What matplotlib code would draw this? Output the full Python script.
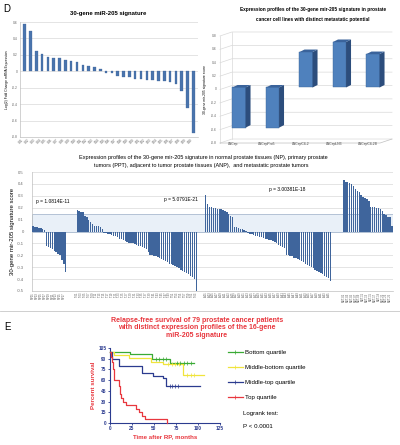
import numpy as np
import matplotlib
matplotlib.use("Agg")
import matplotlib.pyplot as plt
from matplotlib.patches import Polygon, Rectangle
from matplotlib.lines import Line2D

plt.rcParams["font.family"] = ["Liberation Sans Narrow", "Liberation Sans", "DejaVu Sans"]

W, H = 400, 445

# --- D, top left: log2 fold change of the 30 signature genes
gene_labels = ["G01", "G02", "G03", "G04", "G05", "G06", "G07", "G08", "G09", "G10",
               "G11", "G12", "G13", "G14", "G15", "G16", "G17", "G18", "G19", "G20",
               "G21", "G22", "G23", "G24", "G25", "G26", "G27", "G28", "G29", "G30"]
gene_fc = [0.57, 0.49, 0.25, 0.21, 0.18, 0.16, 0.16, 0.135, 0.127, 0.114,
           0.08, 0.06, 0.05, 0.03, -0.02, -0.02, -0.057, -0.065, -0.073, -0.094,
           -0.098, -0.10, -0.11, -0.115, -0.115, -0.13, -0.155, -0.24, -0.45, -0.75]

# --- D, top right: score in LNCaP derivatives
cell_lines = ["LNCap", "LNCapPro5", "LNCapC4-2", "LNCapLN3", "LNCapC4-2B"]
cell_scores = [-0.60, -0.60, 0.53, 0.68, 0.50]

# --- D, middle: score per tissue sample
np_scores = [0.045, 0.04, 0.037, 0.033, 0.03, 0.025, 0.01,
             -0.12, -0.13, -0.14, -0.15, -0.16, -0.17, -0.19, -0.20, -0.24, -0.27, -0.34]
ppt_scores = [0.18, 0.17, 0.165, 0.16, 0.13, 0.12, 0.10, 0.08, 0.06, 0.05, 0.045, 0.045, 0.04, 0.02,
              -0.01, -0.015, -0.02, -0.025, -0.03, -0.035, -0.04, -0.05, -0.06, -0.065,
              -0.07, -0.08, -0.09, -0.095, -0.10, -0.10, -0.105, -0.11, -0.12, -0.125,
              -0.13, -0.14, -0.15, -0.17, -0.20, -0.20, -0.205, -0.21, -0.215, -0.22,
              -0.23, -0.24, -0.25, -0.26, -0.27, -0.275, -0.28, -0.29, -0.30, -0.31,
              -0.32, -0.33, -0.34, -0.35, -0.36, -0.37, -0.38, -0.40, -0.50]
anp_scores = [0.31, 0.23, 0.21, 0.21, 0.20, 0.20, 0.19, 0.19, 0.19, 0.18,
              0.17, 0.16, 0.15, 0.13, 0.12, 0.04, 0.035, 0.03, 0.025, 0.02, 0.01,
              0.005, -0.01, -0.02, -0.025, -0.03, -0.035, -0.04, -0.045, -0.05, -0.055,
              -0.06, -0.065, -0.07, -0.075, -0.08, -0.09, -0.10, -0.11, -0.12, -0.13, -0.14,
              -0.20, -0.20, -0.21, -0.21, -0.22, -0.22, -0.23, -0.24, -0.25, -0.26,
              -0.27, -0.28, -0.29, -0.30, -0.31, -0.32, -0.33, -0.34, -0.35, -0.36,
              -0.37, -0.38, -0.39, -0.42]
met_scores = [0.43, 0.42, 0.42, 0.41, 0.40, 0.38, 0.36, 0.34, 0.33, 0.31, 0.29, 0.28, 0.27,
              0.26, 0.21, 0.21, 0.21, 0.20, 0.20, 0.19, 0.17, 0.15, 0.14, 0.12, 0.12, 0.05]
group_prefix = ["NP", "T", "A", "MET-"]
p_values = ["p = 1.0814E-11", "p = 5.0791E-21", "p = 3.00381E-18"]

# --- E: Kaplan-Meier steps (months, percent) and censored times
km_labels = ["Bottom quartile", "Middle-bottom quartile", "Middle-top quartile", "Top quartile"]
km_times = [[0, 23, 48, 68, 96],
            [0, 5, 22, 47, 60, 83, 107],
            [0, 2, 10, 36, 49, 60, 64, 102],
            [0, 1, 2, 3, 4, 10, 11, 12, 15, 18, 29, 33, 36, 40, 65]]
km_surv = [[100, 96, 90, 84, 84],
           [100, 95, 91, 86, 82, 67, 67],
           [100, 90, 80, 70, 66, 63, 52, 52],
           [100, 92, 85, 75, 60, 52, 40, 35, 30, 25, 20, 15, 10, 5, 0]]
km_censor = [[52, 56, 60, 64, 76, 80, 84, 88, 92],
             [66, 70, 74, 78, 88, 92, 96],
             [68, 71, 74, 77],
             []]
km_colors = ["#3aaa35", "#f0e43c", "#2b3b8f", "#e8373e"]

RED = "#e8373e"
NAVY = "#2b3b8f"
BAR = "#4a74ad"
GRID = "#d9d9d9"


def px_axes(fig, left, top, right, bottom):
    return fig.add_axes([left / W, 1 - bottom / H, (right - left) / W, (bottom - top) / H])


def px_text(fig, x, y, s, **kw):
    fig.text(x / W, 1 - y / H, s, **kw)


fig = plt.figure(figsize=(W / 100, H / 100), dpi=100)
fig.patch.set_facecolor("white")

px_text(fig, 3, 9, "D", fontsize=7, va="center", family="Liberation Sans")
px_text(fig, 4, 327, "E", fontsize=7, va="center", family="Liberation Sans")

# ---------------- top left
ax1 = px_axes(fig, 20, 22, 198, 137)
x1 = np.arange(len(gene_fc))
ax1.bar(x1, gene_fc, width=0.45, color=BAR, edgecolor="#3a6095", linewidth=0.2, zorder=3)
ax1.set_xlim(-0.8, len(gene_fc) - 0.2)
ax1.set_ylim(-0.8, 0.6)
ax1.set_yticks(np.arange(-0.8, 0.61, 0.2))
ax1.set_yticklabels([f"{v:.1f}" if abs(v) > 1e-9 else "0" for v in np.arange(-0.8, 0.61, 0.2)])
ax1.yaxis.grid(True, color=GRID, lw=0.5)
ax1.set_axisbelow(True)
ax1.set_xticks(x1)
ax1.set_xticklabels(gene_labels, rotation=45, ha="right", fontsize=2.2, color="#555555")
ax1.tick_params(axis="y", labelsize=2.4, length=0, pad=1.5, labelcolor="#666666")
ax1.tick_params(axis="x", length=0, pad=0.8)
for s in ["top", "right"]:
    ax1.spines[s].set_visible(False)
for s in ["left", "bottom"]:
    ax1.spines[s].set_color("#bfbfbf")
    ax1.spines[s].set_linewidth(0.5)
ax1.set_ylabel("Log(2) Fold Change mRNA Expression", fontsize=2.4, labelpad=2.5)
px_text(fig, 108, 13, "30-gene miR-205 signature", fontsize=4.3, weight="bold",
        ha="center", va="center")

# ---------------- top right (Excel-style 3D columns)
ax2 = px_axes(fig, 200, 20, 397, 150)
PX_X, PX_Y = 33.5, 66.9
ax2.set_xlim((200 - 239) / PX_X, (397 - 239) / PX_X)
ax2.set_ylim((89.5 - 150) / PX_Y, (89.5 - 20) / PX_Y)
ax2.axis("off")
dx_w, dy_w = 12 / PX_X, 4 / PX_Y
x_front, x_back_r = (220 - 239) / PX_X, (392 - 239) / PX_X
for v in np.arange(-0.8, 0.81, 0.2):
    ax2.plot([x_front, x_front + dx_w, x_back_r], [v, v + dy_w, v + dy_w],
             color=GRID, lw=0.5, zorder=1)
    ax2.text((217 - 239) / PX_X, v, f"{v:.1f}" if abs(v) > 1e-9 else "0",
             fontsize=2.4, ha="right", va="center", color="#666666")
ax2.plot([x_front, x_front], [-0.8, 0.8], color=GRID, lw=0.5, zorder=1)
ax2.plot([x_front + dx_w, x_front + dx_w], [-0.8 + dy_w, 0.8 + dy_w], color=GRID, lw=0.5, zorder=1)
ax2.plot([x_front, x_back_r - dx_w, x_back_r], [-0.8, -0.8, -0.8 + dy_w],
         color="#bfbfbf", lw=0.5, zorder=1)
hw, sd, sdy, b0 = 0.195, 5 / PX_X, 2.5 / PX_Y, 0.03
xc = np.arange(len(cell_scores))
lo = np.minimum(0, cell_scores) + b0
ax2.bar(xc, np.abs(cell_scores), bottom=lo, width=2 * hw, color="#4f81bd",
        edgecolor="#3d6699", linewidth=0.3, zorder=3)
for i, v in enumerate(cell_scores):
    y0 = min(0, v) + b0
    y1 = max(0, v) + b0
    ax2.add_patch(Polygon([(i + hw, y0), (i + hw + sd, y0 + sdy), (i + hw + sd, y1 + sdy), (i + hw, y1)],
                          closed=True, facecolor="#2c4d7c", edgecolor="none", zorder=3))
    ax2.add_patch(Polygon([(i - hw, y1), (i + hw, y1), (i + hw + sd, y1 + sdy), (i - hw + sd, y1 + sdy)],
                          closed=True, facecolor="#3a639b", edgecolor="none", zorder=3))
    ax2.text(i - 0.17, -0.815, cell_lines[i], fontsize=2.4, ha="center", va="center", color="#444444")
ax2.text((205 - 239) / PX_X, 0.0, "30-gene mir-205 signature score", rotation=90,
         fontsize=2.4, ha="center", va="center")
px_text(fig, 313, 10, "Expression profiles of the 30-gene mir-205 signature in prostate",
        fontsize=3.4, weight="bold", ha="center", va="center")
px_text(fig, 313, 19, "cancer cell lines with distinct metastatic potential",
        fontsize=3.4, weight="bold", ha="center", va="center")

# ---------------- middle: tissues
groups = [np_scores, ppt_scores, anp_scores, met_scores]
gaps = [0, 5, 4, 6]
ax3 = px_axes(fig, 32, 172, 393, 291)
start = 0
ticks, tlabels = [], []
for g, (vals, gap, pre) in enumerate(zip(groups, gaps, group_prefix)):
    start += gap
    xs = start + np.arange(len(vals))
    ax3.bar(xs, vals, width=0.72, color="#3f659c", edgecolor="none", zorder=3)
    ticks += list(xs[::2])
    tlabels += [f"{pre}{k + 1:02d}" for k in range(0, len(vals), 2)]
    start += len(vals)
ax3.set_xlim(-0.6, start - 0.4)
ax3.set_ylim(-0.5, 0.5)
ax3.add_patch(Rectangle((-0.6, 0), start + 0.2, 0.145, facecolor="#e9f0f8",
                        edgecolor="#a9b9cf", linewidth=0.6, zorder=2))
ax3.set_yticks(np.arange(-0.5, 0.51, 0.1))
ax3.set_yticklabels([f"{v:.1f}" if abs(v) > 1e-9 else "0" for v in np.arange(-0.5, 0.51, 0.1)])
ax3.yaxis.grid(True, color=GRID, lw=0.5)
ax3.set_axisbelow(True)
ax3.set_xticks(ticks)
ax3.set_xticklabels(tlabels, rotation=90, fontsize=1.9, color="#555555")
ax3.tick_params(axis="y", labelsize=3.0, length=0, pad=6, labelcolor="#666666")
ax3.tick_params(axis="x", length=0, pad=1)
for s in ["top", "right"]:
    ax3.spines[s].set_visible(False)
for s in ["left", "bottom"]:
    ax3.spines[s].set_color("#bfbfbf")
    ax3.spines[s].set_linewidth(0.5)
ax3.set_ylabel("30-gene mir-205 signature score", fontsize=4.3, labelpad=1.5)
px_text(fig, 203, 158, "Expression profiles of the 30-gene mir-205 signature in normal prostate tissues (NP), primary prostate",
        fontsize=4.0, ha="center", va="center")
px_text(fig, 201, 165, "tumors (PPT), adjacent to tumor prostate tissues (ANP),  and metastatic prostate tumors",
        fontsize=4.0, ha="center", va="center")
for (x, y), s in zip([(53, 202), (181, 199), (287, 189)], p_values):
    px_text(fig, x, y, s, fontsize=3.5, ha="center", va="center")

fig.add_artist(Line2D([0, 1], [1 - 311 / H] * 2, color="#c8c8c8", lw=0.6))

# ---------------- E: Kaplan-Meier
ax4 = px_axes(fig, 110, 348, 220, 423)
handles = []
for t, s, c, col, lab in zip(km_times, km_surv, km_censor, km_colors, km_labels):
    ax4.step(t, s, where="post", color=col, lw=0.9, zorder=3, clip_on=False)
    if c:
        idx = np.searchsorted(t, c, side="right") - 1
        ax4.plot(c, np.array(s)[idx], ls="none", marker="|", ms=2.2, mew=0.5, color=col, zorder=4)
    handles.append(Line2D([0], [0], color=col, lw=0.9, marker="|", ms=2.5, mew=0.5, label=lab))
ax4.set_xlim(0, 125)
ax4.set_ylim(0, 105)
ax4.set_xticks([0, 25, 50, 75, 100, 125])
ax4.set_yticks(np.arange(0, 106, 15))
for s in ["top", "right"]:
    ax4.spines[s].set_visible(False)
for s in ["left", "bottom"]:
    ax4.spines[s].set_color(NAVY)
    ax4.spines[s].set_linewidth(0.8)
ax4.tick_params(colors=NAVY, labelsize=3.4, length=1.5, width=0.6, pad=1)
for lab in ax4.get_xticklabels() + ax4.get_yticklabels():
    lab.set_fontweight("bold")
    lab.set_family("Liberation Sans")
ax4.set_xlabel("Time after RP, months", color=RED, fontsize=4.4, weight="bold",
               family="Liberation Sans", labelpad=2)
ax4.set_ylabel("Percent survival", color=RED, fontsize=4.4, weight="bold",
               family="Liberation Sans", labelpad=2)
fig.legend(handles=handles, loc="upper left", bbox_to_anchor=(228 / W, 1 - 350 / H),
           frameon=False, prop={"family": "Liberation Sans", "size": 4.4},
           handlelength=2.4, handletextpad=0.4, labelspacing=1.6, borderaxespad=0,
           borderpad=0)
px_text(fig, 243, 413, "Logrank test:", fontsize=4.4, va="center", family="Liberation Sans")
px_text(fig, 243, 426, "P < 0.0001", fontsize=4.4, va="center", family="Liberation Sans")
for k, line in enumerate(["Relapse-free survival of 79 prostate cancer patients",
                          "with distinct expression profiles of the 16-gene",
                          "miR-205 signature"]):
    px_text(fig, 197, 320 + 7.6 * k, line, fontsize=5.0, weight="bold", color=RED,
            ha="center", va="center", family="Liberation Sans")

fig.savefig("out.png", dpi=100)
